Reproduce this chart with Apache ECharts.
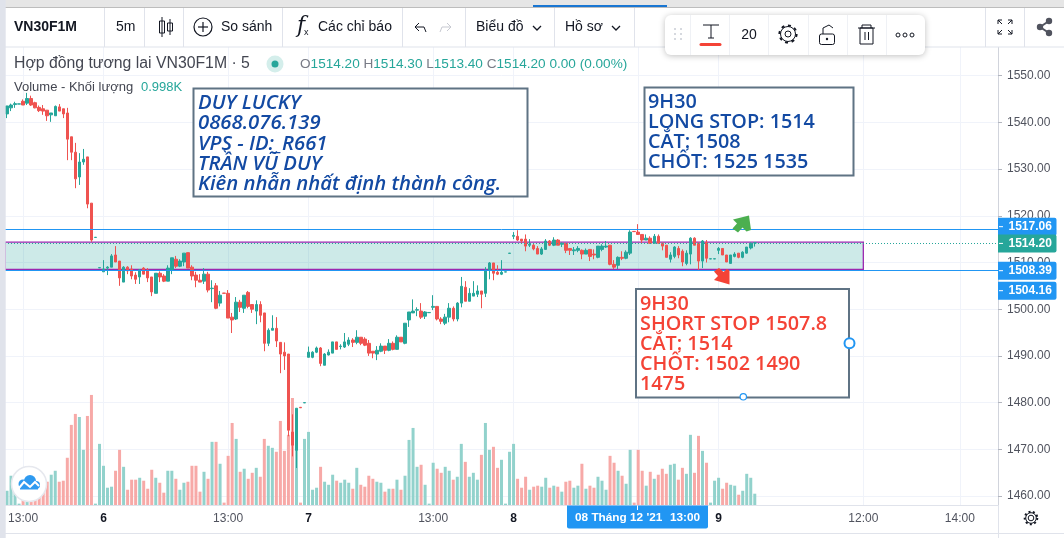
<!DOCTYPE html>
<html><head><meta charset="utf-8">
<style>html,body{margin:0;padding:0;background:#fff}#c{width:1064px;height:538px}</style>
<script src="https://cdn.jsdelivr.net/npm/echarts@6/dist/echarts.min.js"></script>
</head><body><div id="c"></div>
<script>
const opens=[1541.8,1543.1,1543.8,1543.9,1544.5,1544.1,1545.1,1544.2,1543.2,1542.9,
1542.6,1541.6,1541.4,1543.3,1542.9,1542,1536.9,1533.6,1528.3,1531.5,
1532.6,1522.7,1515.35,1508.85,1508,1508.8,1509,1511.6,1510.3,1505.8,
1509,1508.6,1507.3,1506.9,1508.8,1508.4,1506.9,1503.4,1507.7,1507.1,
1506,1508.4,1510.7,1509.2,1510.1,1512.1,1509,1507.3,1506.2,1506,
1507.5,1504.4,1505,1501.3,1503.45,1503.4,1498.3,1497.9,1501.5,1500.2,
1503.6,1501,1499.6,1501,1499.2,1492.7,1495.5,1495.9,1492.9,1490.8,
1490.4,1473.7,1469.8,1479,1479.95,1489.7,1489.7,1490.8,1491.7,1488,
1490.2,1490.6,1493,1492,1491.9,1492.5,1493.4,1492.9,1494,1493.6,
1492.7,1491,1490.4,1491,1492.1,1491.2,1492.7,1491.4,1494,1492.7,
1497.7,1499.2,1499.8,1499.6,1498.5,1499.25,1500.4,1500.6,1497.9,1497,
1498.3,1500.2,1497.9,1501.3,1504.7,1501.7,1502.8,1503.2,1503.9,1503.4,
1508.4,1509.9,1507.9,1507.5,1507.95,1511.95,1515.6,1515.6,1515,1515,
1513.7,1513.7,1513,1511.8,1512.8,1514.6,1513.7,1514.8,1513.9,1514.1,
1513,1512.5,1512.6,1512.6,1511.8,1512.8,1511.8,1511.1,1512.8,1513.3,
1513.7,1509.6,1509.4,1511.1,1510.9,1512,1516.65,1516.5,1516,1514.8,
1515.2,1514.1,1515.6,1514.1,1513.7,1510.7,1511.3,1513,1512.4,1509.8,
1511.8,1515.2,1514.1,1510.3,1514.3,1510.75,1510.75,1512.6,1513,1511.6,
1509.8,1511.3,1512,1511.1,1512,1513.1,1514.2];
const closes=[1543.5,1543.7,1544,1543.95,1543.7,1545.1,1543.7,1543.1,1542.5,1542.4,
1541.4,1542,1543.4,1542.4,1541.8,1536.4,1533.6,1527.9,1531.5,1532.1,
1522.5,1514.8,1515.4,1508.9,1508.6,1509,1511.4,1510.1,1506.7,1509,
1508.2,1507.1,1506.4,1508.4,1507.5,1506.7,1503.7,1507.7,1506.9,1506,
1508.8,1511,1509.2,1510.3,1512,1508.8,1507.1,1506.2,1505.8,1507.5,
1504.1,1504.5,1500.2,1503,1503.4,1498.1,1497.7,1501.5,1500.4,1503,
1500.6,1500,1501,1498.7,1492.7,1495.5,1495.9,1493.2,1490.4,1490,
1474.1,1470.9,1478.8,1478.9,1480,1490.8,1490.8,1491.7,1488.4,1490.4,
1490.8,1493,1491.4,1492.1,1493,1493.4,1492.9,1494,1492.7,1492.3,
1490.6,1490.6,1491.2,1492.1,1491.2,1492.7,1491.4,1494,1493,1497,
1499.4,1499.6,1499.9,1498.3,1499.4,1499.3,1500.6,1497.9,1497.4,1498.3,
1500.2,1497.9,1501.3,1504.9,1501.7,1503.4,1503.4,1503.9,1503.2,1508.4,
1509.9,1507.7,1507.5,1507.9,1508,1512,1515.8,1514.8,1514.6,1513.5,
1513.9,1512.9,1511.8,1512.9,1514.6,1513.7,1514.8,1513.7,1514.1,1512.6,
1512.6,1512.7,1513,1511.8,1512.6,1511.3,1511.6,1513.5,1513.5,1513.5,
1509.6,1509,1511.1,1510.9,1512.2,1516.5,1516.6,1516,1514.8,1515.2,
1514.1,1515.6,1514.1,1513.5,1511.1,1511.6,1513.3,1511.6,1510.1,1512,
1515.2,1513.7,1510.3,1514.6,1510.9,1510.8,1510.8,1513,1511.6,1510.1,
1511.6,1511.8,1511.1,1512.2,1513.3,1514.1,1514.2];
const highs=[1543.5,1544,1544.4,1543.95,1544.9,1546.3,1545.7,1544.4,1543.6,1543.7,
1542.6,1542,1543.6,1543.9,1542.9,1543.1,1536.9,1535.6,1533.4,1534.3,
1532.6,1522.7,1515.4,1508.9,1510.5,1509.2,1511.8,1513.5,1510.3,1509.2,
1509.2,1509.4,1507.9,1508.6,1509,1508.8,1506.9,1507.7,1508.1,1507.5,
1509.4,1511,1511.4,1510.7,1512,1512.1,1509.4,1508,1507.5,1508.8,
1508,1506.2,1505.6,1503.9,1503.45,1504.1,1499.2,1502.6,1502,1503,
1503.9,1501,1501.9,1501.7,1499.2,1495.9,1498.7,1498.3,1492.9,1492.9,
1490.4,1477.5,1478.8,1479,1480,1492,1491,1492,1491.9,1490.6,
1491.4,1493,1493,1492.5,1494.9,1494,1493.8,1495.5,1494,1494,
1493.4,1491,1492.1,1492.7,1492.1,1493.6,1493.1,1494.4,1494,1497,
1499.4,1502.1,1500.4,1501.3,1499.6,1499.3,1503,1500.6,1498.3,1499,
1501.3,1500.6,1501.5,1506.9,1506,1504.5,1506,1505.1,1503.9,1509,
1510.1,1509.9,1509.4,1510.5,1508,1512,1516.5,1516.9,1515,1516,
1515,1514.1,1513.5,1513.3,1515,1514.8,1515.4,1515,1514.3,1514.1,
1513,1513.3,1513.5,1512.8,1513,1512.8,1512.8,1513.5,1513.9,1514.6,
1513.7,1510.5,1511.3,1512.4,1512.6,1516.9,1516.65,1518.2,1516,1516,
1515.6,1516.1,1516,1514.3,1513.7,1512.2,1513.5,1513.5,1512.8,1512.6,
1515.4,1515.4,1514.3,1514.8,1514.8,1510.8,1510.8,1513.3,1513,1511.6,
1511.6,1512.2,1512,1512.4,1513.3,1514.3,1514.3];
const lows=[1540.9,1542.4,1543.1,1543.9,1543.7,1543.7,1543.5,1543,1542.2,1541.6,
1540.3,1540.1,1541.4,1542.4,1540.9,1531.9,1531.9,1525.9,1526.6,1530.9,
1521.6,1514.4,1515.35,1508.85,1508,1507.3,1509,1510.1,1505,1505.8,
1507.5,1506.4,1505.4,1505.4,1507.5,1505.8,1502.8,1503.4,1505.8,1505.8,
1506,1507.5,1508.8,1509,1509.2,1508.8,1506.2,1504.7,1505.8,1505.4,
1503.6,1501.5,1500,1500.6,1503.4,1498.1,1494.9,1497.7,1499.4,1499.2,
1500.2,1499.2,1496.8,1497.2,1491,1492.1,1495.5,1491.9,1486.3,1487,
1472.8,1468.5,1466,1478.9,1479.95,1489.7,1489.5,1490.6,1487.8,1488,
1490.1,1490.6,1491.4,1491.4,1491.7,1492.1,1491.9,1492.5,1492.3,1492.1,
1490,1489.5,1489.1,1490.8,1490.4,1491,1491.2,1491.4,1493,1492.5,
1496.2,1499.2,1498.5,1497.9,1497.9,1499.25,1499.8,1497.6,1496.8,1496.6,
1497.2,1497.4,1497.4,1500.4,1501.7,1501.7,1502.8,1502.6,1500.2,1502.6,
1506.4,1506.2,1507.3,1507.3,1507.95,1511.95,1515,1514.6,1514.1,1512.4,
1513.3,1512.6,1511.8,1511.6,1512.8,1513.5,1513.5,1513.7,1513.3,1512,
1511.6,1511.6,1512.2,1510.7,1511.8,1510.3,1510.7,1510.9,1512.4,1513.1,
1509.4,1508.6,1508.6,1510.5,1510.7,1511.6,1516.6,1516,1514.1,1514.8,
1514.1,1514.1,1514.1,1512.6,1511.1,1510,1510.9,1510.9,1509.2,1509.4,
1509.6,1513.7,1508.3,1508.8,1510,1510.75,1510.75,1511.8,1511.6,1510.1,
1509.8,1511.1,1510.9,1510.9,1511.9,1512.8,1513.4];
const volumes=[1.26,2.59,1.06,0.12,0.76,0.9,1.06,1.06,1.35,1.71,
2.06,2.68,3.03,2.06,2.15,4.18,7.09,8.06,7.79,4.88,
7.88,9.74,0.12,5.41,3.47,1.53,1.62,3.03,4.88,3.38,
1.35,2.24,2.24,2.41,2.15,1.44,3.12,2.41,1.97,1.09,
3.03,3.03,2.32,1.35,1.97,2.06,3.47,3.47,1.18,2.94,
2.32,5.59,5.59,3.65,0.21,4.35,7.26,5.85,2.94,3.21,
2.32,2.85,3.29,2.5,5.85,5.24,5.06,4.71,7.44,4.79,
6.21,9.47,5.47,0.21,5.85,6.47,1.35,1.53,3.38,2.06,
1.79,2.68,2.15,1.97,2.24,1.97,1.44,3.29,1.79,1.62,
2.59,2.32,2.06,1.97,1.18,1.44,1.44,2.24,1.35,2.59,
5.76,6.82,3.38,3.56,1.79,0.12,3.74,3.21,2.85,3.38,
3.03,2.24,2.5,5.41,3.82,2.5,2.85,2.24,4.44,7.26,
4.88,5.15,3.29,4,0.12,4.71,5.41,2.32,1.53,2.5,
1.35,1.62,1.71,1.62,2.41,1.53,1.71,1.62,1.18,2.06,
2.15,1.53,1.71,3.65,1.44,1.71,1.53,2.5,2.15,1.35,
4.35,3.74,3.03,2.59,1.88,4.88,0.21,4.88,3.03,1.71,
2.94,2.32,2.68,3.21,2.76,3.56,3.65,2.24,3.29,2.76,
6.21,2.85,6.12,4.79,3.74,0.21,2.15,2.41,1.44,1.97,
1.79,1.71,0.91,1.26,2.76,2.41,1.0];
const tickIndexes=[4,24,55,75,106,126,157,177,213,237];
const tickLabels=['13:00','6','13:00','7','13:00','8','13:00','9','12:00','14:00'];
const priceTicks=[1460,1470,1480,1490,1500,1510,1520,1530,1540,1550];
const slotCount=247;
const priceLevels={upper:1517.06,last:1514.20,lower:1508.39};
const zoneTop=1514.35, zoneBottom=1508.5, zoneEndIndex=213;

const GREEN='#26a69a',RED='#ef5350',BLUE='#2196f3',INK='#131722',GREY='#434651',AX='#50535e',LINE='#e0e3eb';
const UI='"Liberation Sans",Arial,sans-serif', NOTE='"Open Sans",sans-serif';
const categories=Array.from({length:slotCount},(_,i)=>{const k=tickIndexes.indexOf(i);return k>=0?tickLabels[k]:'s'+i;});
const ohlc=opens.map((o,i)=>[o,closes[i],lows[i],highs[i]]);
const volData=volumes.map((v,i)=>({value:v,itemStyle:{color:closes[i]>=opens[i]?'#92d2cc':'#f7a9a7'}}));

const g=[];
const Z=20;
const rect=(x,y,w,h,fill,extra)=>g.push({type:'rect',silent:true,z:Z,shape:Object.assign({x,y,width:w,height:h},extra&&extra.shape),style:Object.assign({fill},extra&&extra.style)});
const line=(x1,y1,x2,y2,stroke,lw,cap)=>g.push({type:'line',silent:true,z:Z+1,shape:{x1,y1,x2,y2},style:{stroke,lineWidth:lw||1,lineCap:cap||'butt'}});
const text=(t,x,y,font,fill,align,rich)=>g.push({type:'text',silent:true,z:Z+2,style:Object.assign({text:t,x,y,font,fill,textAlign:align||'left',textVerticalAlign:'middle'},rich?{rich}:{})});
const circle=(cx,cy,r,stroke,fill,lw,dash)=>g.push({type:'circle',silent:true,z:Z+1,shape:{cx,cy,r},style:{stroke:stroke||null,fill:fill||null,lineWidth:lw||1,lineDash:dash||null}});
const poly=(pts,fill,stroke,lw)=>g.push({type:'polygon',silent:true,z:Z+1,shape:{points:pts},style:{fill:fill||null,stroke:stroke||null,lineWidth:lw||1}});
const pline=(pts,stroke,lw)=>g.push({type:'polyline',silent:true,z:Z+1,shape:{points:pts},style:{stroke,lineWidth:lw||1,fill:null}});

// window frame
rect(0,0,1064,47,'#ffffff');
rect(0,0,1064,7,'#e6e6e6');
rect(0,7,1064,1,'#bdbdbd');
rect(533,5,134,2,'#1976d2');
rect(0,0,5.7,538,'#e0e3eb');
rect(4,46.5,1060,1,LINE);
[104,144,183,282,402,465,554,634,985,1024].forEach(x=>rect(x,8,1,39,LINE));
text('VN30F1M',14,27,'bold 14px '+UI,INK);
text('5m',116,27,'14px '+UI,INK);
// candle icon
line(162,17,162,37,INK);rect(159.5,21,5,12,'#fff',{style:{stroke:INK}});
line(170,19,170,35,INK);rect(167.5,23,5,8,'#fff',{style:{stroke:INK}});
circle(203,27,9,INK,null,1.2);line(198,27,208,27,INK,1.2);line(203,22,203,32,INK,1.2);
text('So sánh',221,27,'14px '+UI,INK);
text('f',297,26,'italic 22px "DejaVu Serif",serif',INK,'left');text('x',304,33,'9px '+UI,INK);
text('Các chỉ báo',318,27,'14px '+UI,INK);
pline([[419,23],[415,27],[419,31]],INK);pline([[415,27],[424,27],[426,32]],INK);
pline([[447,23],[451,27],[447,31]],'#c7c9d1');pline([[451,27],[442,27],[440,32]],'#c7c9d1');
text('Biểu đồ',476,27,'14px '+UI,INK);pline([[533,26],[537,30],[541,26]],INK,1.3);
text('Hồ sơ',565,27,'14px '+UI,INK);pline([[612,26],[616,30],[620,26]],INK,1.3);
// fullscreen & share
pline([[998,24],[998,20],[1002,20]],INK);pline([[1008,20],[1012,20],[1012,24]],INK);
pline([[998,30],[998,34],[1002,34]],INK);pline([[1008,34],[1012,34],[1012,30]],INK);
line(998,20,1002,24,INK);line(1012,20,1008,24,INK);line(998,34,1002,30,INK);line(1012,34,1008,30,INK);
line(1049,21,1040,27,'#50535e',2);line(1040,27,1049,33,'#50535e',2);
circle(1049,21,3.2,null,'#50535e');circle(1040,27,3.2,null,'#50535e');circle(1049,33,3.2,null,'#50535e');
// legend row
text('Hợp đồng tương lai VN30F1M · 5',14,64,'15.8px '+UI,GREY);
circle(275,64,8.5,null,'#d4eeeb');circle(275,64,3.5,null,GREEN);
text('{l|O}{v|1514.20} {l|H}{v|1514.30} {l|L}{v|1513.40} {l|C}{v|1514.20} {v|0.00 (0.00%)}',300,64,'13.6px '+UI,GREEN,'left',{l:{fill:'#787b86',font:'13.6px '+UI},v:{fill:GREEN,font:'13.6px '+UI}});
text('Volume - Khối lượng',14,87,'13px '+UI,GREY);
text('0.998K',141,87,'13px '+UI,GREEN);
// note boxes
const BORDER='#5f7384';
g.push({type:'rect',silent:true,z:Z,shape:{x:193.5,y:88.5,width:334,height:108},style:{fill:'#fff',stroke:BORDER,lineWidth:2}});
['DUY LUCKY','0868.076.139','VPS - ID:_R661','TRẦN VŨ DUY','Kiên nhẫn nhất định thành công.'].forEach((t,i)=>text(t,198,103+i*20.4,'italic 600 20.3px '+NOTE,'#134aa3'));
g.push({type:'rect',silent:true,z:Z,shape:{x:644.5,y:87.5,width:209,height:88},style:{fill:'#fff',stroke:BORDER,lineWidth:2}});
['9H30','LONG STOP: 1514','CẮT: 1508','CHỐT: 1525 1535'].forEach((t,i)=>text(t,648,102+i*20.2,'600 19.8px '+NOTE,'#134aa3'));
g.push({type:'rect',silent:true,z:Z,shape:{x:636,y:289,width:213,height:108.5},style:{fill:'#fff',stroke:BORDER,lineWidth:2}});
['9H30','SHORT STOP 1507.8','CẮT: 1514','CHỐT: 1502 1490','1475'].forEach((t,i)=>text(t,640,304+i*20,'600 19.8px '+NOTE,'#f44336'));
circle(849.5,343.3,5,BLUE,'#fff',2);circle(743.3,396.8,3.2,BLUE,'#fff',1.2);
// arrows
poly([[749,215.5],[733,219.5],[737,223.5],[732.5,228.5],[738,232.5],[742.5,227.5],[746.5,231.5],[751,230]],'#4caf50');
poly([[729.5,284.5],[714,280],[718,276],[714,271.5],[719,268],[723.5,272],[727,269],[729.5,270.5]],'#f44336');
// price axis flags
[[1517.06,226.7,BLUE],[1514.20,243.4,GREEN],[1508.39,270.7,BLUE],[1504.16,290.7,BLUE]].forEach(([p,y,c])=>{
  rect(998,y-9,58.5,18,c,{shape:{r:[0,2,2,0]}});
  line(999,y,1003,y,'#fff');
  text(p.toFixed(2),1008.5,y,'bold 12px '+UI,'#fff');
});
// time axis chrome
rect(567,505.5,141,23,BLUE,{shape:{r:[0,0,2,2]}});
line(637.5,505.5,637.5,510,'#fff');
text("08 Tháng 12 '21",575,518,'bold 11.8px '+UI,'#fff');
text('13:00',670,518,'bold 11.8px '+UI,'#fff');
rect(4,533,1060,1,LINE);
rect(998,505,1,33,LINE);
circle(1031,518,2.8,'#131722',null,1);circle(1031,518,5.3,'#131722',null,1);circle(1031,518,6.3,'#131722',null,2,[2,2.4]);
// logo
circle(29,484,17.5,'#e6e8ee','#fff',1.5);
[[23,484,4.5],[30,481,6],[36,485,4]].forEach(([cx,cy,r])=>circle(cx,cy,r,null,'#2e9af0'));
rect(20,484,18,5.5,'#2e9af0');
g[g.length-1].z=Z+1;
pline([[19,488],[24,482],[30,487],[35,482],[39,486]],'#ffffff',2);
// floating toolbar
g.push({type:'rect',silent:true,z:Z+3,shape:{x:665,y:15,width:260,height:40,r:6},style:{fill:'#fff',shadowBlur:6,shadowColor:'rgba(0,0,0,.25)',shadowOffsetY:1}});
const T=Z+4;
const tb=[];
[690,729,768,808,847,886].forEach(x=>tb.push({type:'rect',shape:{x,y:15,width:1,height:40},style:{fill:'#eff1f5'}}));
for(const dy of [0,5,10])for(const dx of [0,6])tb.push({type:'circle',shape:{cx:675+dx,cy:29+dy,r:1},style:{fill:'#c9ccd4'}});
tb.push({type:'line',shape:{x1:703,y1:25,x2:719,y2:25},style:{stroke:INK,lineWidth:1}});
tb.push({type:'line',shape:{x1:711,y1:25,x2:711,y2:38},style:{stroke:INK,lineWidth:1}});
tb.push({type:'line',shape:{x1:708,y1:38,x2:714,y2:38},style:{stroke:INK,lineWidth:1}});
tb.push({type:'line',shape:{x1:701,y1:44.5,x2:720,y2:44.5},style:{stroke:'#f44336',lineWidth:3,lineCap:'round'}});
tb.push({type:'text',style:{text:'20',x:749,y:35,font:'14px '+UI,fill:INK,textAlign:'center',textVerticalAlign:'middle'}});
tb.push({type:'circle',shape:{cx:788,cy:34,r:3},style:{stroke:INK,fill:null}});
tb.push({type:'circle',shape:{cx:788,cy:34,r:7.5},style:{stroke:INK,fill:null}});
tb.push({type:'circle',shape:{cx:788,cy:34,r:8.6},style:{stroke:INK,fill:null,lineWidth:2,lineDash:[3,3.7]}});
tb.push({type:'rect',shape:{x:819.5,y:34,width:15,height:10.5,r:2},style:{stroke:INK,fill:null}});
tb.push({type:'polyline',shape:{points:[[823,34],[823,28],[829,25],[833,28]]},style:{stroke:INK,fill:null}});
tb.push({type:'circle',shape:{cx:827,cy:39,r:1.2},style:{fill:INK}});
tb.push({type:'line',shape:{x1:858,y1:28,x2:875,y2:28},style:{stroke:INK}});
tb.push({type:'polyline',shape:{points:[[862,28],[862,25],[871,25],[871,28]]},style:{stroke:INK,fill:null}});
tb.push({type:'polygon',shape:{points:[[860,28],[860,44],[873,44],[873,28]]},style:{stroke:INK,fill:null}});
tb.push({type:'line',shape:{x1:865,y1:32,x2:865,y2:40},style:{stroke:INK}});
tb.push({type:'line',shape:{x1:868.5,y1:32,x2:868.5,y2:40},style:{stroke:INK}});
[898,905,912].forEach(cx=>tb.push({type:'circle',shape:{cx,cy:35,r:2},style:{stroke:INK,fill:null}}));
tb.forEach(o=>{o.silent=true;o.z=T;g.push(o);});

const chart=echarts.init(document.getElementById('c'),null,{renderer:'canvas'});
chart.setOption({
  animation:false,backgroundColor:'#ffffff',
  grid:{left:5,right:66,top:47,bottom:33,containLabel:false},
  xAxis:{type:'category',data:categories,boundaryGap:true,
    axisLine:{lineStyle:{color:'#e0e3eb'}},axisTick:{show:false},
    splitLine:{show:true,alignWithLabel:true,interval:(i)=>tickIndexes.includes(i),lineStyle:{color:'#f0f3fa'}},
    axisLabel:{interval:(i)=>tickIndexes.includes(i),margin:8,fontFamily:UI,fontSize:12,color:AX,hideOverlap:false,
      formatter:(v)=>/:/.test(v)?v:'{d|'+v+'}',rich:{d:{fontWeight:'bold',fontFamily:UI,fontSize:12,color:INK}}}},
  yAxis:[
    {type:'value',position:'right',min:1458.09,max:1556.12,scale:true,
     axisLine:{show:true,lineStyle:{color:'#d1d4dc'}},
     axisTick:{show:true,length:4,lineStyle:{color:'#b2b5be'},customValues:priceTicks},
     splitLine:{show:true,lineStyle:{color:'#f0f3fa'}},
     axisLabel:{margin:9,fontFamily:UI,fontSize:12,color:AX,customValues:priceTicks,formatter:(v)=>v.toFixed(2)}},
    {type:'value',position:'right',min:0,max:40.53,show:false,splitLine:{show:false}}
  ],
  series:[
    {type:'bar',name:'Volume',data:volData,yAxisIndex:1,barWidth:3,z:2,silent:true},
    {type:'candlestick',name:'VN30F1M',data:ohlc,barWidth:3,z:3,silent:true,
     itemStyle:{color:GREEN,color0:RED,borderColor:GREEN,borderColor0:RED,borderWidth:1},
     markArea:{silent:true,z:1,itemStyle:{color:'rgba(38,166,154,0.23)',borderColor:'#9c27b0',borderWidth:1.3},
       data:[[{yAxis:zoneTop},{xAxis:zoneEndIndex,yAxis:zoneBottom}]]},
     markLine:{silent:true,symbol:'none',animation:false,label:{show:false},
       data:[
        {yAxis:priceLevels.upper,lineStyle:{color:BLUE,width:1,type:'solid'}},
        {yAxis:priceLevels.lower,lineStyle:{color:BLUE,width:1,type:'solid'}},
        {yAxis:priceLevels.last,lineStyle:{color:GREEN,width:1,type:[1,2]}}
       ]}}
  ],
  graphic:g
});
</script></body></html>
